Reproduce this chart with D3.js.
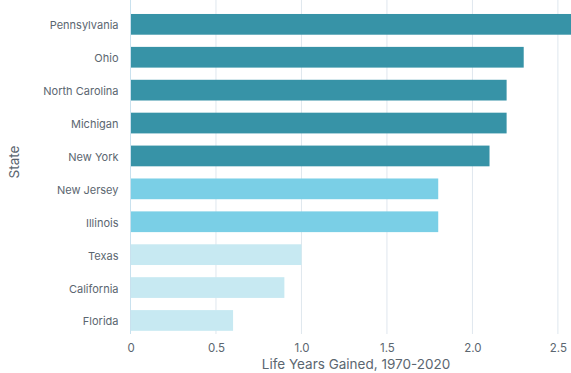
<html>
  <head>
    <style>
      body { margin: 0; background: #fff; }
      text { font-family: Inter, "Open Sans", sans-serif; fill: #5b6670; }
      .tick text { font-size: 11px; }
      .xaxis .tick text { font-size: 11.5px; }
      .title { font-size: 13.5px; }
    </style>
    <script src="https://cdnjs.cloudflare.com/ajax/libs/d3/7.8.5/d3.min.js"></script>
  </head>
  <body>
    <script>
      // Data
      var states = ["Pennsylvania", "Ohio", "North Carolina", "Michigan", "New York",
                    "New Jersey", "Illinois", "Texas", "California", "Florida"];
      var yearsGained = [2.6, 2.3, 2.2, 2.2, 2.1, 1.8, 1.8, 1.0, 0.9, 0.6];
      var groups = ["high", "high", "high", "high", "high", "mid", "mid", "low", "low", "low"];
      var xTicks = [0, 0.5, 1.0, 1.5, 2.0, 2.5];

      var colors = { high: "#3793a7", mid: "#7acfe6", low: "#c7e9f2" };

      var width = 571, height = 373;
      var svg = d3.select("body").append("svg")
        .attr("width", width)
        .attr("height", height);

      var x = d3.scaleLinear().domain([0, 2.6]).range([130.5, 575]);
      var y = d3.scaleBand().domain(states).range([7.4, 337.4])
        .paddingInner(0.37).paddingOuter(0.2);

      // grid
      svg.selectAll(".grid")
        .data(xTicks.slice(1))
        .enter().append("line")
        .attr("x1", function(d) { return x(d); })
        .attr("x2", function(d) { return x(d); })
        .attr("y1", 0).attr("y2", 334)
        .attr("stroke", "#dfe7ee").attr("stroke-width", 1);

      // bars
      svg.selectAll(".bar")
        .data(states)
        .enter().append("rect")
        .attr("x", x(0))
        .attr("y", function(d) { return y(d); })
        .attr("width", function(d, i) { return x(yearsGained[i]) - x(0); })
        .attr("height", y.bandwidth())
        .attr("fill", function(d, i) { return colors[groups[i]]; });

      // left axis line
      svg.append("line")
        .attr("x1", x(0)).attr("x2", x(0))
        .attr("y1", 0).attr("y2", 334)
        .attr("stroke", "#c9e1ee").attr("stroke-width", 1);

      // y axis labels
      var yAxis = svg.append("g")
        .attr("transform", "translate(" + (x(0) - 12) + ",1.5)")
        .call(d3.axisLeft(y).tickSize(0).tickPadding(0));
      yAxis.select(".domain").remove();

      // x axis labels
      var xAxis = svg.append("g")
        .attr("class", "xaxis")
        .attr("transform", "translate(0,341)")
        .call(d3.axisBottom(x).tickValues(xTicks).tickSize(0).tickPadding(3)
          .tickFormat(function(d) { return d === 0 ? "0" : d3.format(".1f")(d); }));
      xAxis.select(".domain").remove();

      svg.append("text")
        .attr("class", "title")
        .attr("x", 356).attr("y", 369)
        .attr("text-anchor", "middle")
        .text("Life Years Gained, 1970-2020");

      svg.append("text")
        .attr("class", "title")
        .attr("transform", "translate(19,162) rotate(-90)")
        .attr("text-anchor", "middle")
        .text("State");
    </script>
  </body>
</html>
